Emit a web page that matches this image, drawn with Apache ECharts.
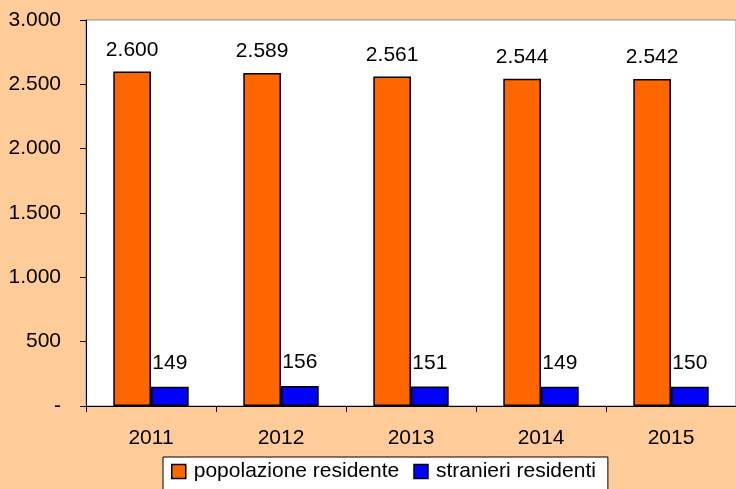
<!DOCTYPE html>
<html>
<head>
<meta charset="utf-8">
<script src="https://cdn.jsdelivr.net/npm/echarts@6/dist/echarts.min.js"></script>
<style>
html, body { margin: 0; padding: 0; background: #FFCC99; }
#chart { width: 736px; height: 489px; }
</style>
</head>
<body>
<div id="chart"></div>
<script>
var anni = ['2011', '2012', '2013', '2014', '2015']
var popolazione = [2600, 2589, 2561, 2544, 2542]
var stranieri = [149, 156, 151, 149, 150]

function fmt (v) {
  if (v === 0) return '-'
  return String(v).replace(/\B(?=(\d{3})+(?!\d))/g, '.')
}

var font = 'Liberation Sans, Arial, sans-serif'
var fs = 21
var chart = echarts.init(document.getElementById('chart'))
chart.setOption({
  backgroundColor: '#FFCC99',
  animation: false,
  textStyle: { fontFamily: font },
  grid: {
    left: 86, top: 20, right: -5, bottom: 83,
    show: true, backgroundColor: '#FFFFFF', borderColor: '#8C8C8C', borderWidth: 1
  },
  legend: {
    top: 457, left: 163,
    icon: 'rect',
    itemWidth: 14, itemHeight: 14, itemGap: 14,
    padding: [4, 12, 12, 8],
    backgroundColor: '#FFFFFF', borderColor: '#000000', borderWidth: 1,
    itemStyle: { borderColor: '#000', borderWidth: 1.5 },
    textStyle: { fontSize: fs, color: '#000', fontFamily: font, padding: [0, 0, 0, 3] },
    data: ['popolazione residente', 'stranieri residenti']
  },
  xAxis: {
    type: 'category',
    data: anni,
    axisLine: { lineStyle: { color: '#000', width: 1 } },
    axisTick: { show: true, length: 6, inside: false, lineStyle: { color: '#000' } },
    axisLabel: { fontSize: fs, color: '#000', margin: 22, fontFamily: font }
  },
  yAxis: {
    type: 'value',
    min: 0, max: 3000, interval: 500,
    axisLine: { show: true, lineStyle: { color: '#000', width: 1 } },
    axisTick: { show: true, length: 6, lineStyle: { color: '#000' } },
    splitLine: { show: false },
    axisLabel: { fontSize: fs, color: '#000', margin: 25, fontFamily: font, formatter: fmt }
  },
  series: [
    {
      name: 'popolazione residente',
      type: 'bar',
      data: popolazione,
      barGap: '0%',
      barCategoryGap: '42%',
      itemStyle: { color: '#FF6600', borderColor: '#000', borderWidth: 1.5 },
      label: { show: true, position: 'top', distance: 11, fontSize: fs, color: '#000', fontFamily: font, formatter: function (p) { return fmt(p.value) } }
    },
    {
      name: 'stranieri residenti',
      type: 'bar',
      data: stranieri,
      itemStyle: { color: '#0000FF', borderColor: '#000', borderWidth: 1.5 },
      label: { show: true, position: 'top', distance: 13, fontSize: fs, color: '#000', fontFamily: font, formatter: function (p) { return fmt(p.value) } }
    }
  ]
})
</script>
</body>
</html>
